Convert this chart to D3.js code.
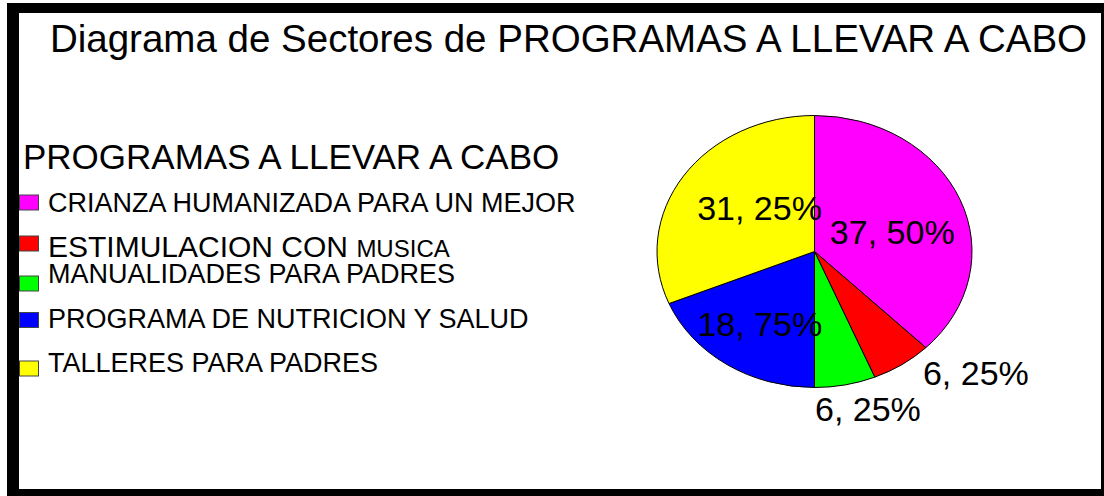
<!DOCTYPE html>
<html>
<head>
  <meta charset="UTF-8">
  <style>
    body { margin: 0; background: #fff; }
    svg { display: block; font-family: "Liberation Sans", Arial, sans-serif; }
  </style>
</head>
<body>
<svg></svg>
<script src="https://d3js.org/d3.v7.min.js"></script>
<script>
let width = 1104, height = 496;

// data
let programas = ["CRIANZA HUMANIZADA PARA UN MEJOR", "ESTIMULACION CON MUSICA",
                 "MANUALIDADES PARA PADRES", "PROGRAMA DE NUTRICION Y SALUD", "TALLERES PARA PADRES"];
let porcentajes = [37.50, 6.25, 6.25, 18.75, 31.25];
let colores = ["#ff00ff", "#ff0000", "#00ff00", "#0000ff", "#ffff00"];

let svg = d3.select("svg")
    .attr("width", width)
    .attr("height", height);

// frame (black border with white plot area)
svg.append("rect").attr("x", 7).attr("y", 3).attr("width", width - 7).attr("height", height - 3).attr("fill", "#000");
svg.append("rect").attr("x", 19).attr("y", 13).attr("width", 1082).attr("height", 476).attr("fill", "#fff");

// title
svg.append("text")
    .attr("x", 568.5)
    .attr("y", 52)
    .attr("text-anchor", "middle")
    .style("font-size", "38.5px")
    .text("Diagrama de Sectores de PROGRAMAS A LLEVAR A CABO");

// pie
let cx = 814.5, cy = 251.5, rx = 157.5, ry = 136;
let datos = programas.map((p, i) => ({ name: p, value: porcentajes[i], color: colores[i] }));
let pie = d3.pie().sort(null).value(d => d.value);
let arc = d3.arc().innerRadius(0).outerRadius(ry);
let arcs = pie(datos);

let pieG = svg.append("g").attr("transform", "translate(" + cx + "," + cy + ")");

pieG.selectAll("path")
    .data(arcs)
    .join("path")
    .attr("transform", "scale(" + (rx / ry) + ",1)")
    .attr("d", arc)
    .attr("fill", d => d.data.color)
    .attr("stroke", "#000")
    .attr("stroke-width", 1)
    .attr("vector-effect", "non-scaling-stroke");

// labels "37, 50%" style
let fmt = v => d3.format(".2f")(v).replace(".", ", ") + "%";
// small nudges so label boxes sit where the original put them
let nudge = [[5, 6.5], [52, -20], [15, -9], [-11, 16.5], [10.5, -5.7]];

pieG.selectAll("text")
    .data(arcs)
    .join("text")
    .attr("x", (d, i) => {
        let mid = (d.startAngle + d.endAngle) / 2;
        let f = d.data.value < 10 ? 1.25 : 0.5;
        return Math.sin(mid) * rx * f + nudge[i][0];
    })
    .attr("y", (d, i) => {
        let mid = (d.startAngle + d.endAngle) / 2;
        let f = d.data.value < 10 ? 1.25 : 0.5;
        return -Math.cos(mid) * ry * f + nudge[i][1];
    })
    .attr("dy", "0.35em")
    .attr("text-anchor", "middle")
    .style("font-size", "34px")
    .text(d => fmt(d.data.value));

// legend
let legend = svg.append("g");
legend.append("text")
    .attr("x", 23)
    .attr("y", 169)
    .style("font-size", "35px")
    .text("PROGRAMAS A LLEVAR A CABO");

// rows are unevenly spaced in the original legend
let rowY = [202.5, 243.5, 283.5, 320, 368.5];
let textDy = [9.5, 13.5, -0.5, 8, 3.5];

let rows = legend.selectAll("g.row")
    .data(datos)
    .join("g")
    .attr("class", "row")
    .attr("transform", (d, i) => "translate(0," + rowY[i] + ")");

rows.append("rect")
    .attr("x", 19.5)
    .attr("y", -7.5)
    .attr("width", 19)
    .attr("height", 15)
    .attr("fill", d => d.color)
    .attr("stroke", "#444")
    .attr("stroke-width", 1);

rows.append("text")
    .attr("x", 48)
    .attr("y", (d, i) => textDy[i])
    .style("font-size", "27px")
    .each(function (d) {
        let t = d3.select(this);
        if (d.name === "ESTIMULACION CON MUSICA") {
            t.append("tspan").style("font-size", "30px").text("ESTIMULACION CON ");
            t.append("tspan").style("font-size", "24px").text("MUSICA");
        } else {
            t.text(d.name);
        }
    });
</script>
</body>
</html>
